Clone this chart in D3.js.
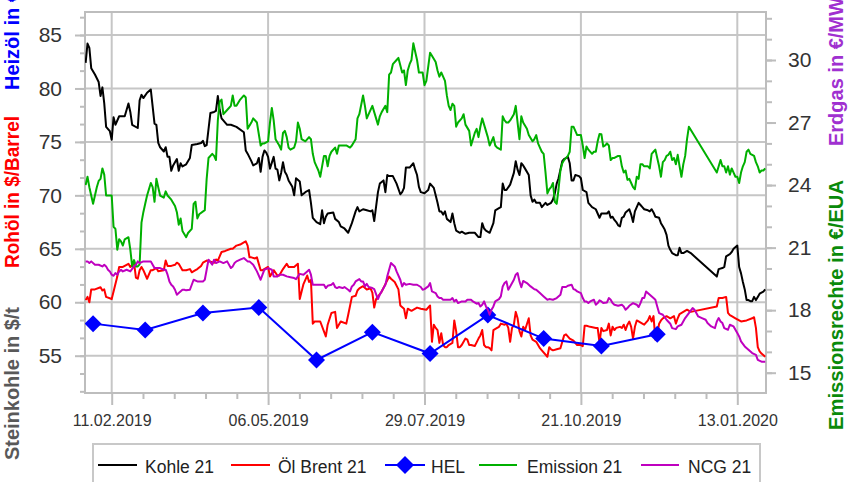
<!DOCTYPE html>
<html><head><meta charset="utf-8">
<script src="https://cdn.jsdelivr.net/npm/d3@7"></script>
<style>
html,body{margin:0;padding:0;background:#fff;}
svg{display:block;font-family:"Liberation Sans",Arial,sans-serif;}
</style></head>
<body>
<svg id="chart" width="849" height="482"></svg>
<script>
// ---------- data ----------
// day offsets counted from startDate (calendar days)
const startDate = "2019-01-28";
const endDate = "2020-01-28";
const xTickDates = ["2019-02-11","2019-05-06","2019-07-29","2019-10-21","2020-01-13"];
const leftTicks = [55,60,65,70,75,80,85];
const rightTicks = [15,18,21,24,27,30];
const seriesNames = ["Kohle 21","Öl Brent 21","HEL","Emission 21","NCG 21"];

const kohle = [[0,82.4],[1,84.2],[2,83.8],[3,81.9],[5,81.3],[7,80.6],[8,79.3],[9,80.1],[10,78.6],[11,76.4],[13,76.0],[14,75.2],[15,77.3],[16,76.6],[18,77.4],[19,77.4],[21,77.4],[23,78.6],[24,77.8],[25,76.6],[28,76.3],[29,78.9],[30,79.4],[31,79.1],[33,79.6],[35,79.9],[37,76.7],[38,76.6],[39,74.9],[40,74.5],[42,74.1],[43,74.5],[44,73.6],[45,73.6],[46,72.3],[47,72.8],[49,73.4],[50,72.3],[51,73.0],[52,72.7],[54,72.9],[56,73.5],[57,74.7],[60,74.8],[62,74.9],[63,75.1],[64,74.6],[65,74.7],[67,77.7],[69,77.8],[70,77.9],[71,79.3],[72,78.0],[73,77.2],[76,76.6],[78,76.6],[81,76.4],[85,75.9],[86,74.2],[87,73.9],[89,73.2],[90,72.8],
[92,73.0],[93,73.5],[94,72.2],[95,73.6],[96,74.2],[97,74.0],[98,73.6],[99,72.5],[101,73.6],[102,72.5],[103,72.4],[104,71.4],[105,72.1],[106,73.1],[107,72.2],[108,71.9],[109,71.4],[111,70.8],[112,70.0],[113,71.6],[115,71.3],[116,70.0],[118,70.3],[120,70.5],[121,69.3],[122,67.9],[124,67.5],[126,67.3],[127,68.6],[128,67.4],[129,68.0],[130,68.3],[133,68.4],[134,67.8],[136,67.5],[137,67.1],[139,66.9],[141,66.5],[143,67.4],[145,68.5],[146,68.9],[147,68.5],[149,68.7],[151,68.6],[153,68.5],[154,68.6],[155,67.6],[157,70.3],[158,71.1],[160,71.4],[161,70.3],[162,71.9],[163,71.8],[165,71.8],[167,71.1],[169,70.1],[170,70.3],[171,70.7],[172,72.6],[174,72.6],[176,73.0],[177,72.4],[178,71.9],[179,70.8],[180,70.3],[182,70.2],
[184,70.5],[185,71.1],[187,70.7],[188,70.0],[189,69.3],[190,68.5],[191,68.5],[192,68.2],[193,68.5],[194,67.8],[196,67.5],[197,68.3],[198,67.4],[199,66.7],[201,66.5],[202,66.6],[204,66.4],[206,66.5],[207,66.5],[209,66.5],[211,66.1],[212,66.1],[213,67.4],[214,66.9],[215,66.7],[217,66.5],[219,67.4],[220,68.6],[222,68.8],[223,68.9],[224,71.1],[225,70.5],[226,70.5],[228,71.0],[230,72.1],[231,73.2],[232,72.4],[233,71.9],[234,73.0],[235,72.8],[236,72.5],[238,71.9],[239,70.0],[240,69.4],[241,69.6],[242,69.3],[244,69.3],[245,68.9],[247,69.3],[248,69.1],[250,69.3],[251,69.6],[252,70.2],[253,71.1],[254,71.6],[256,73.2],[257,73.4],[259,73.6],[260,73.0],[261,71.4],[262,71.4],[263,71.9],[265,71.8],[266,71.6],[267,70.5],[269,70.3],[270,69.3],[272,68.9],[274,68.7],
[275,68.3],[276,67.9],[277,68.3],[278,68.3],[280,68.3],[281,68.5],[282,67.9],[283,68.0],[284,67.7],[285,67.5],[286,67.2],[287,67.1],[288,67.9],[289,68.0],[290,68.4],[292,68.7],[293,68.2],[294,67.5],[295,68.5],[296,68.9],[297,69.3],[298,69.1],[299,68.9],[300,68.7],[302,68.6],[303,68.5],[304,68.7],[305,68.4],[306,68.0],[308,67.9],[309,67.4],[310,67.1],[311,66.8],[312,66.3],[313,65.3],[314,64.9],[315,64.6],[317,64.4],[318,64.4],[319,65.1],[320,64.6],[321,64.6],[323,64.8],[325,64.6],[339,62.4],[340,63.1],[342,63.2],[343,63.3],[344,64.3],[346,64.5],[347,64.7],[348,65.0],[350,65.3],[351,63.3],[352,62.7],[353,61.9],[354,61.2],[355,60.2],[356,60.2],[357,60.1],[358,60.1],[359,60.5],[360,60.2],[361,60.5],[362,60.8],[364,61.0],[365,61.2]];

const brent = [[0,60.2],[1,60.5],[2,60.0],[3,61.2],[5,61.2],[8,61.4],[9,61.1],[10,61.2],[11,60.5],[14,60.3],[17,62.4],[18,63.3],[20,63.3],[23,63.6],[24,63.3],[26,63.7],[27,62.3],[28,62.2],[29,63.0],[30,63.3],[31,63.0],[33,62.2],[35,63.0],[36,63.0],[38,63.2],[39,62.9],[42,63.0],[43,63.9],[44,63.4],[46,63.4],[48,63.5],[49,63.7],[50,63.6],[52,63.0],[54,63.0],[56,63.1],[57,62.8],[59,63.0],[60,63.1],[62,63.4],[63,63.7],[65,63.9],[67,63.8],[69,63.7],[70,64.0],[71,63.9],[73,64.7],[75,64.8],[78,65.0],[79,65.0],[81,65.3],[83,65.4],[85,65.6],[86,65.7],[87,65.3],[88,64.2],[89,64.2],[91,64.1],[92,64.2],[94,63.0],[95,63.0],[98,63.3],[99,62.4],[101,63.0],[103,62.5],[104,62.5],[106,63.1],[108,63.6],[109,63.3],[111,63.3],[112,63.3],[114,63.6],[115,60.3],[117,61.7],[119,62.5],[120,61.9],[121,62.1],[122,58.0],[123,58.2],[126,58.2],[129,56.8],[130,57.9],[132,59.0],[134,59.1],[135,57.6],[137,58.2],[140,58.0],[141,58.8],[143,60.5],[145,60.6],[146,61.1],[147,61.3],[149,61.5],[151,61.2],[153,61.3],[154,60.9],[155,59.5],[156,60.3],[159,61.0],[161,61.7],[163,62.4],[164,62.2],[166,61.9],[168,61.2],[169,59.7],[171,59.4],[172,58.5],[173,59.4],[175,59.2],[178,59.5],[180,59.4],
[183,59.3],[185,59.7],[186,56.3],[187,57.9],[188,57.6],[189,57.4],[190,56.2],[191,57.1],[192,56.0],[193,55.8],[194,55.8],[195,56.0],[197,56.2],[198,58.3],[199,57.3],[200,55.8],[201,55.8],[202,56.0],[203,56.3],[204,56.6],[205,56.5],[206,56.0],[207,56.0],[209,55.9],[211,56.6],[212,56.9],[213,57.4],[214,56.0],[215,55.8],[216,55.8],[217,55.7],[218,55.5],[219,57.4],[221,57.6],[222,57.7],[223,58.0],[225,57.9],[226,58.0],[227,57.6],[228,56.3],[229,57.6],[230,57.9],[231,59.1],[232,58.5],[233,57.3],[234,56.8],[235,57.7],[236,57.4],
[238,58.5],[239,56.9],[240,56.5],[242,56.3],[244,55.7],[245,55.5],[248,54.9],[249,55.8],[250,55.6],[251,55.5],[253,55.6],[255,55.7],[257,56.9],[258,57.0],[260,56.6],[262,56.4],[264,56.0],[266,56.0],[267,55.9],[268,57.8],[269,57.8],[271,57.7],
[274,57.6],[275,57.6],[276,56.2],[277,57.6],[278,57.3],[280,57.4],[281,58.0],[282,56.9],[283,57.7],[284,57.4],[285,57.6],[287,57.7],[288,57.6],[289,57.9],[290,57.4],[291,57.9],[292,58.2],[293,57.7],[294,56.6],[295,57.7],[296,58.3],[297,58.2],[299,58.0],[300,57.9],[302,58.3],[303,58.7],[304,58.2],[305,58.7],[306,56.5],[307,56.9],[308,58.0],[309,58.3],[310,58.5],[312,58.7],[314,58.5],[316,58.7],[317,58.0],[318,58.5],[319,58.9],[321,59.1],[323,59.3],[325,59.1],[339,59.6],[340,60.4],[342,60.4],[344,60.5],[345,59.0],[346,58.8],[347,58.7],[349,58.5],[352,58.2],[355,58.3],[358,58.5],[359,58.6],[360,57.6],[361,55.8],[362,55.4],[363,55.2],[365,54.9]];

const hel = [["2019-02-01",58.0],["2019-03-01",57.4],["2019-04-01",59.0],["2019-05-01",59.5],["2019-06-01",54.6],["2019-07-01",57.2],["2019-08-01",55.2],["2019-09-01",58.8],["2019-10-01",56.6],["2019-11-01",55.9],["2019-12-01",57.0]];

const emission = [[0,24.0],[1,24.4],[2,23.9],[3,23.5],[4,23.1],[5,23.5],[6,23.9],[7,24.2],[8,24.3],[9,24.8],[10,24.5],[11,23.5],[14,23.5],[15,22.0],[16,21.9],[17,20.9],[18,21.4],[19,21.3],[20,21.1],[21,21.4],[23,21.5],[24,20.9],[25,20.1],[26,20.4],[27,20.1],[28,20.1],[29,20.2],[30,22.2],[31,22.7],[32,23.1],[33,23.5],[35,24.1],[36,23.9],[37,23.2],[38,24.3],[39,23.9],[40,23.5],[42,23.4],[43,23.7],[44,23.5],[46,23.3],[48,23.0],[49,22.7],[50,22.1],[51,22.4],[52,21.8],[54,21.5],[55,21.7],[57,21.9],[58,23.1],[59,23.2],[60,22.4],[61,22.6],[64,22.8],[65,24.3],[66,25.3],[68,25.5],[69,25.4],[70,25.2],[71,27.1],[72,28.0],[73,28.1],[74,27.4],[76,27.6],[78,27.8],[79,28.3],[80,27.8],[81,27.8],[83,28.1],[85,28.3],[86,28.2],[87,26.7],[89,27.0],
[90,27.2],[92,27.0],[94,25.9],[95,26.0],[96,26.0],[98,26.1],[99,27.0],[100,27.7],[101,27.1],[102,26.2],[104,25.9],[105,25.7],[106,26.5],[107,26.6],[108,26.3],[109,25.8],[110,25.7],[112,25.8],[113,26.1],[114,27.0],[115,26.7],[116,26.2],[118,26.1],[120,26.3],[121,26.2],[122,25.5],[123,25.1],[124,24.9],[125,24.7],[126,24.4],[127,24.9],[128,25.4],[129,25.4],[130,24.9],[131,25.4],[132,25.6],[134,25.8],[135,25.5],[136,25.9],[138,25.9],[140,25.9],[142,25.8],[143,25.9],[145,26.2],[146,27.2],[147,27.4],[149,28.3],[150,27.8],[151,27.2],[152,27.4],[154,27.8],[155,27.5],[157,26.9],[158,27.3],[159,27.5],[161,27.8],[162,27.5],[163,29.3],[164,29.4],[165,29.8],[167,30.0],[168,30.1],[170,29.4],[171,29.5],[172,28.8],[173,29.5],[174,29.8],[175,30.0],[176,30.8],[177,30.4],[178,30.0],[179,29.4],[180,29.4],
[181,29.4],[182,28.8],[183,29.0],[185,30.35],[186,30.2],[188,29.9],[189,29.5],[190,29.2],[191,29.4],[192,29.2],[193,29.0],[194,28.3],[195,27.8],[196,27.6],[197,27.9],[198,27.8],[199,26.8],[200,27.0],[202,27.2],[203,27.4],[204,26.9],[206,26.6],[207,25.9],[208,26.2],[209,26.5],[210,26.7],[211,26.3],[212,26.8],[213,27.2],[214,26.9],[215,26.6],[216,26.3],[217,25.9],[218,26.1],[219,26.3],[220,25.9],[221,25.8],[223,25.7],[224,27.3],[225,27.1],[226,27.0],[227,27.0],[228,27.1],[230,27.4],[231,27.8],[232,27.0],[233,26.2],[234,27.3],[235,27.0],[237,26.7],[238,26.4],[240,26.1],[241,26.2],[242,26.4],[243,26.0],[244,25.8],[245,25.6],[246,25.5],[247,24.6],[248,23.6],[249,23.8],[250,23.9],[251,24.1],[252,23.2],[253,23.1],[254,23.8],[255,24.7],[256,25.05],[257,25.2],[259,25.4],[260,25.6],[261,26.8],[262,26.8],[264,26.4],[265,26.4],[266,26.4],[267,25.9],[268,25.3],[269,25.85],[270,25.7],[272,25.5],[273,25.6],
[274,25.6],[275,26.1],[276,26.45],[277,26.44],[278,25.85],[279,25.9],[280,26.0],[281,25.9],[282,25.2],[283,25.3],[284,25.3],[286,25.4],[287,25.4],[288,24.9],[289,24.6],[290,24.7],[291,24.25],[292,24.3],[293,24.1],[294,23.9],[295,23.8],[296,24.4],[297,24.3],[298,25.0],[299,25.0],[300,24.9],[302,24.9],[303,24.8],[304,25.5],[305,25.6],[306,25.7],[307,25.3],[308,24.9],[309,24.4],[310,25.1],[311,25.2],[312,25.4],[313,25.45],[314,25.6],[315,25.2],[316,25.3],[317,25.0],[318,25.45],[319,24.9],[320,24.4],[321,25.0],[322,25.4],[323,26.2],[324,26.8],[339,24.6],[340,24.9],[341,25.2],[342,24.9],[343,24.9],[344,24.6],[345,24.9],[346,24.5],[347,24.8],[348,24.6],[349,24.4],[350,24.4],[351,24.1],[352,24.6],[353,24.9],[354,25.1],[355,25.6],[356,25.7],[357,25.5],[358,25.45],[359,25.4],[360,25.1],[361,24.9],[362,24.6],[363,24.7],[364,24.7],[365,24.8]];

const ncg = [[0,20.34],[1,20.34],[2,20.26],[3,20.34],[5,20.18],[7,20.18],[9,20.10],[10,20.18],[11,20.10],[12,19.94],[13,19.86],[14,19.70],[15,19.65],[16,19.78],[17,19.70],[18,19.86],[19,19.94],[20,19.86],[22,19.94],[24,19.86],[26,20.10],[27,20.18],[28,20.34],[29,20.26],[31,20.34],[32,20.34],[35,20.34],[36,20.18],[37,20.02],[38,20.02],[40,20.02],[42,19.94],[43,19.94],[44,19.70],[45,19.38],[46,19.22],[47,19.14],[48,18.98],[49,18.74],[50,18.82],[52,18.98],[53,18.98],[54,18.95],[56,18.98],[58,19.46],[60,19.38],[61,19.38],[63,19.38],[64,19.46],[65,19.94],[66,20.42],[68,20.18],[69,20.42],[70,20.26],[72,20.34],[74,20.26],[76,20.34],[78,20.02],[79,20.10],[80,20.26],[81,20.34],[83,20.42],[85,20.50],[86,20.42],[87,20.34],[88,20.34],[90,20.18],[91,20.02],[92,19.86],[94,19.46],[95,19.70],[96,19.94],[98,20.02],[100,19.94],[101,19.62],[103,19.62],[104,19.70],[106,19.70],[108,19.62],[110,19.58],[112,19.54],[113,19.49],[115,19.74],[117,19.70],[119,19.86],[120,19.94],[121,19.70],[122,19.22],[124,19.22],[126,19.22],[128,19.22],[129,19.06],[130,19.17],[132,19.22],[133,19.30],[134,19.11],[135,19.06],[136,19.11],[138,19.06],[139,19.11],[141,18.98],[142,18.90],[143,19.14],[144,19.22],[145,19.38],[147,19.49],[148,19.38],[149,19.38],[150,19.14],[151,19.26],[152,19.11],[154,19.06],[155,19.01],[157,18.53],[158,18.74],[160,19.06],[161,19.22],[162,19.62],[164,20.26],[166,20.10],[167,19.86],[169,19.46],[170,19.14],[171,19.30],[172,19.22],[174,19.26],[176,19.22],[178,19.22],[180,19.11],
[181,18.98],[182,19.01],[184,19.14],[185,19.30],[186,18.90],[188,18.82],[189,18.66],[190,18.58],[191,18.58],[192,18.50],[194,18.50],[196,18.50],[197,18.58],[198,18.42],[199,18.50],[200,18.34],[202,18.42],[204,18.42],[205,18.50],[207,18.50],[208,18.42],[210,18.31],[211,18.34],[212,18.18],[213,18.26],[214,18.42],[215,18.18],[216,18.02],[217,17.78],[218,18.02],[219,18.18],[220,18.42],[222,18.53],[223,18.66],[224,19.14],[225,19.30],[226,19.38],[227,18.98],[228,19.14],[230,19.46],[231,19.70],[232,19.78],[233,19.38],[234,19.10],[235,19.40],[237,19.30],[239,19.14],[241,19.00],[242,18.98],[244,18.82],[246,18.66],[248,18.50],[249,18.53],[251,18.50],[253,18.58],[255,18.74],[256,19.11],[258,19.11],[259,19.17],[261,19.22],[262,19.01],[263,18.98],[264,18.90],[266,18.82],[267,18.58],[268,18.42],[269,18.42],[270,18.34],[271,18.42],[273,18.50],[274,18.26],[275,18.34],[276,18.47],[277,18.42],[278,18.34],[280,18.37],[281,18.58],[282,18.50],[283,18.34],[284,18.26],[286,18.21],[288,18.26],[289,18.18],[290,18.02],[291,18.10],[292,18.21],[294,18.34],[296,18.26],[297,18.15],[298,18.34],[299,18.58],[300,18.58],[301,18.90],[303,18.74],[305,18.58],[306,18.50],[307,18.18],[308,17.86],[310,17.78],[312,17.54],[314,17.35],[315,17.14],[317,17.09],[318,17.22],[320,17.30],[322,17.62],[324,17.86],[326,18.10],[327,18.02],[328,17.86],[329,17.70],[331,17.62],[333,17.54],[334,17.38],[336,17.22],[338,17.14],[339,17.46],[340,17.62],[341,17.46],[342,17.38],[343,17.14],[345,17.06],[346,17.30],[348,17.22],[350,16.90],[351,16.74],[352,16.50],[354,16.26],[356,16.10],[358,15.94],[360,15.85],[361,15.62],[363,15.53],[365,15.53]];

// ---------- chart ----------
const svg = d3.select("#chart");
const W = 849, H = 482;
const plot = {left:85, right:766, top:12, bottom:393};
const parse = d3.timeParse("%Y-%m-%d");
const t0 = parse(startDate);
const dayDate = d => d3.timeDay.offset(t0, d);

const x = d3.scaleTime().domain([parse(xTickDates[0]), parse(xTickDates[4])]).range([111.7, 737.3]);
const yL = d3.scaleLinear().domain([55,85]).range([355.7,35]);
const yR = d3.scaleLinear().domain([15,30]).range([372.7,60]);

const gridCol = "#c6c6c6", axisCol = "#bdbdbd", tickTextCol = "#333333";

svg.append("rect").attr("width",W).attr("height",H).attr("fill","#fff");

// gridlines
const grid = svg.append("g");
grid.selectAll("line.h").data(leftTicks).join("line")
  .attr("x1",plot.left).attr("x2",plot.right)
  .attr("y1",d=>yL(d)).attr("y2",d=>yL(d))
  .attr("stroke",gridCol).attr("stroke-width",2);
grid.selectAll("line.v").data(xTickDates).join("line")
  .attr("x1",d=>x(parse(d))).attr("x2",d=>x(parse(d)))
  .attr("y1",plot.top).attr("y2",plot.bottom)
  .attr("stroke",gridCol).attr("stroke-width",2);

// frame
svg.append("rect").attr("x",plot.left).attr("y",plot.top)
  .attr("width",plot.right-plot.left).attr("height",plot.bottom-plot.top)
  .attr("fill","none").attr("stroke",axisCol).attr("stroke-width",2);

function styleAxis(g, fontSize){
  g.select(".domain").remove();
  g.selectAll(".tick line").attr("stroke",axisCol).attr("stroke-width",2);
  g.selectAll(".tick text").attr("fill",tickTextCol)
    .style("font-family","'Liberation Sans',Arial,sans-serif").style("font-size",fontSize+"px");
}

// left axis
const leftMinor = d3.range(-2, 23).map(k => 55 + k*5/3).filter(v => yL(v) >= plot.top && yL(v) <= plot.bottom);
svg.append("g").attr("transform",`translate(${plot.left},0)`)
  .call(d3.axisLeft(yL).tickValues(leftMinor).tickSize(5).tickFormat(""))
  .call(g=>styleAxis(g,10));
svg.append("g").attr("transform",`translate(${plot.left},0)`)
  .call(d3.axisLeft(yL).tickValues(leftTicks).tickSize(10).tickPadding(13).tickFormat(d3.format("d")))
  .call(g=>styleAxis(g,21));

// right axis
const rightMinor = d3.range(14, 33).filter(v => yR(v) >= plot.top && yR(v) <= plot.bottom);
svg.append("g").attr("transform",`translate(${plot.right},0)`)
  .call(d3.axisRight(yR).tickValues(rightMinor).tickSize(6).tickFormat(""))
  .call(g=>styleAxis(g,10));
svg.append("g").attr("transform",`translate(${plot.right},0)`)
  .call(d3.axisRight(yR).tickValues(rightTicks).tickSize(10).tickPadding(12).tickFormat(d3.format("d")))
  .call(g=>styleAxis(g,21));

// bottom axis
const majors = xTickDates.map(parse);
const xMinor = [];
for (let i=0;i<majors.length-1;i++){
  for (let k=1;k<5;k++) xMinor.push(new Date(+majors[i] + (majors[i+1]-majors[i])*k/5));
}
svg.append("g").attr("transform",`translate(0,${plot.bottom})`)
  .call(d3.axisBottom(x).tickValues(xMinor).tickSize(6).tickFormat(""))
  .call(g=>styleAxis(g,10));
svg.append("g").attr("transform",`translate(0,${plot.bottom})`)
  .call(d3.axisBottom(x).tickValues(majors).tickSize(12).tickPadding(10).tickFormat(d3.timeFormat("%d.%m.%Y")))
  .call(g=>styleAxis(g,16));

// clip
svg.append("clipPath").attr("id","clip").append("rect")
  .attr("x",plot.left).attr("y",plot.top).attr("width",plot.right-plot.left).attr("height",plot.bottom-plot.top);
const lines = svg.append("g").attr("clip-path","url(#clip)");

const lineL = d3.line().x(d=>x(dayDate(d[0]))).y(d=>yL(d[1]));
const lineR = d3.line().x(d=>x(dayDate(d[0]))).y(d=>yR(d[1]));
const lineHel = d3.line().x(d=>x(parse(d[0]))).y(d=>yL(d[1]));

const colors = {kohle:"#000000", brent:"#ff0000", hel:"#0000ff", emission:"#00b000", ncg:"#bf00bf"};

lines.append("path").datum(kohle).attr("d",lineL).attr("fill","none").attr("stroke",colors.kohle).attr("stroke-width",2).attr("stroke-linejoin","round");
lines.append("path").datum(brent).attr("d",lineL).attr("fill","none").attr("stroke",colors.brent).attr("stroke-width",2).attr("stroke-linejoin","round");
lines.append("path").datum(hel).attr("d",lineHel).attr("fill","none").attr("stroke",colors.hel).attr("stroke-width",2);
const diamond = s => `M0,${-s}L${s},0L0,${s}L${-s},0Z`;
lines.selectAll("path.dm").data(hel).join("path").attr("class","dm")
  .attr("d",diamond(8.5)).attr("transform",d=>`translate(${x(parse(d[0]))},${yL(d[1])})`)
  .attr("fill",colors.hel);
lines.append("path").datum(emission).attr("d",lineR).attr("fill","none").attr("stroke",colors.emission).attr("stroke-width",2).attr("stroke-linejoin","round");
lines.append("path").datum(ncg).attr("d",lineR).attr("fill","none").attr("stroke",colors.ncg).attr("stroke-width",2).attr("stroke-linejoin","round");

// axis titles
function vtitle(xb, ys, parts){
  const t = svg.append("text").attr("transform",`translate(${xb},${ys}) rotate(-90)`)
    .style("font-family","'Liberation Sans',Arial,sans-serif").style("font-weight","bold").style("font-size","20px");
  return t;
}
vtitle(18.5,460).attr("fill","#595959").attr("textLength",153).attr("lengthAdjust","spacingAndGlyphs").text("Steinkohle in $/t");
vtitle(18.5,268).attr("fill","#ff0000").attr("textLength",152).attr("lengthAdjust","spacingAndGlyphs").text("Rohöl in $/Barrel");
vtitle(18.5,90).attr("fill","#0000ff").text("Heizöl in €/hl");
vtitle(843,430).attr("fill","#0a8a0a").attr("textLength",250).attr("lengthAdjust","spacingAndGlyphs").text("Emissionsrechte in €/EUA");
vtitle(843,146).attr("fill","#a030d0").text("Erdgas in €/MWh");

// legend
const lg = svg.append("g");
lg.append("rect").attr("x",93).attr("y",444).attr("width",667).attr("height",44)
  .attr("fill","#fff").attr("stroke","#c8c8c8").attr("stroke-width",2);
const legendItems = [
  {name:seriesNames[0], col:colors.kohle, x1:98, x2:137, tx:145, marker:false},
  {name:seriesNames[1], col:colors.brent, x1:231, x2:270, tx:278, marker:false},
  {name:seriesNames[2], col:colors.hel, x1:385, x2:425, tx:431, marker:true},
  {name:seriesNames[3], col:colors.emission, x1:479, x2:517, tx:527, marker:false},
  {name:seriesNames[4], col:colors.ncg, x1:641, x2:679, tx:688, marker:false}
];
legendItems.forEach(it=>{
  lg.append("line").attr("x1",it.x1).attr("x2",it.x2).attr("y1",465).attr("y2",465)
    .attr("stroke",it.col).attr("stroke-width",2);
  if(it.marker){
    lg.append("path").attr("d",diamond(9)).attr("transform",`translate(${(it.x1+it.x2)/2},465)`).attr("fill",it.col);
  }
  lg.append("text").attr("x",it.tx).attr("y",473).attr("fill","#222")
    .style("font-family","'Liberation Sans',Arial,sans-serif").style("font-size","17.5px").text(it.name);
});
</script>
</body></html>
